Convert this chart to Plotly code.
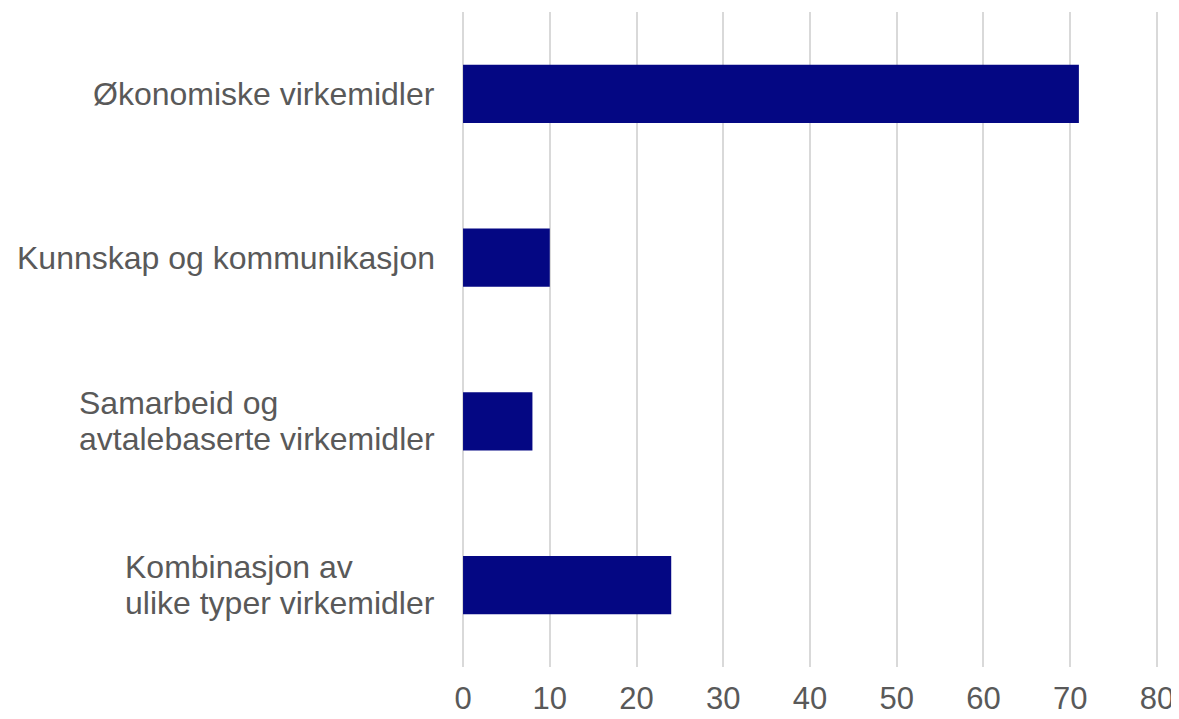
import plotly.graph_objects as go

categories = [
    ["Økonomiske virkemidler"],
    ["Kunnskap og kommunikasjon"],
    ["Samarbeid og", "avtalebaserte virkemidler"],
    ["Kombinasjon av", "ulike typer virkemidler"],
]
values = [71, 10, 8, 24]
x_ticks = [0, 10, 20, 30, 40, 50, 60, 70, 80]

BAR_COLOR = "#040783"
TEXT_COLOR = "#595959"
FONT = "Liberation Sans, Arial, sans-serif"

fig = go.Figure(
    go.Bar(
        x=values,
        y=list(range(len(categories))),
        orientation="h",
        marker=dict(color=BAR_COLOR, line=dict(width=0)),
        width=0.355,
        hoverinfo="skip",
    )
)

for i, lines in enumerate(categories):
    text = "<br>".join(f"<span style='font-size:32px'>{ln}</span>" for ln in lines)
    fig.add_annotation(
        x=0, xref="paper", y=i, yref="y",
        text=text, showarrow=False,
        xanchor="right", yanchor="middle", align="left",
        xshift=-25,
        font=dict(family=FONT, size=28, color=TEXT_COLOR),
    )

fig.update_layout(
    template="none",
    width=1171, height=711,
    margin=dict(l=454, r=21, t=4, b=52, autoexpand=False),
    plot_bgcolor="white", paper_bgcolor="white",
    showlegend=False,
    font=dict(family=FONT, size=32, color=TEXT_COLOR),
)
fig.update_xaxes(
    range=[-0.12, 80.12], tickvals=x_ticks, ticktext=[str(t) for t in x_ticks],
    showgrid=True, gridcolor="#D9D9D9", gridwidth=2,
    zeroline=False, showline=False, automargin=False,
    ticks="outside", ticklen=4, tickcolor="rgba(0,0,0,0)",
    tickfont=dict(family=FONT, size=31, color=TEXT_COLOR),
    fixedrange=True,
)
fig.update_yaxes(
    range=[3.5, -0.5], showticklabels=False, showgrid=False,
    zeroline=False, showline=False, fixedrange=True, automargin=False,
)

fig.write_html("out.html")
